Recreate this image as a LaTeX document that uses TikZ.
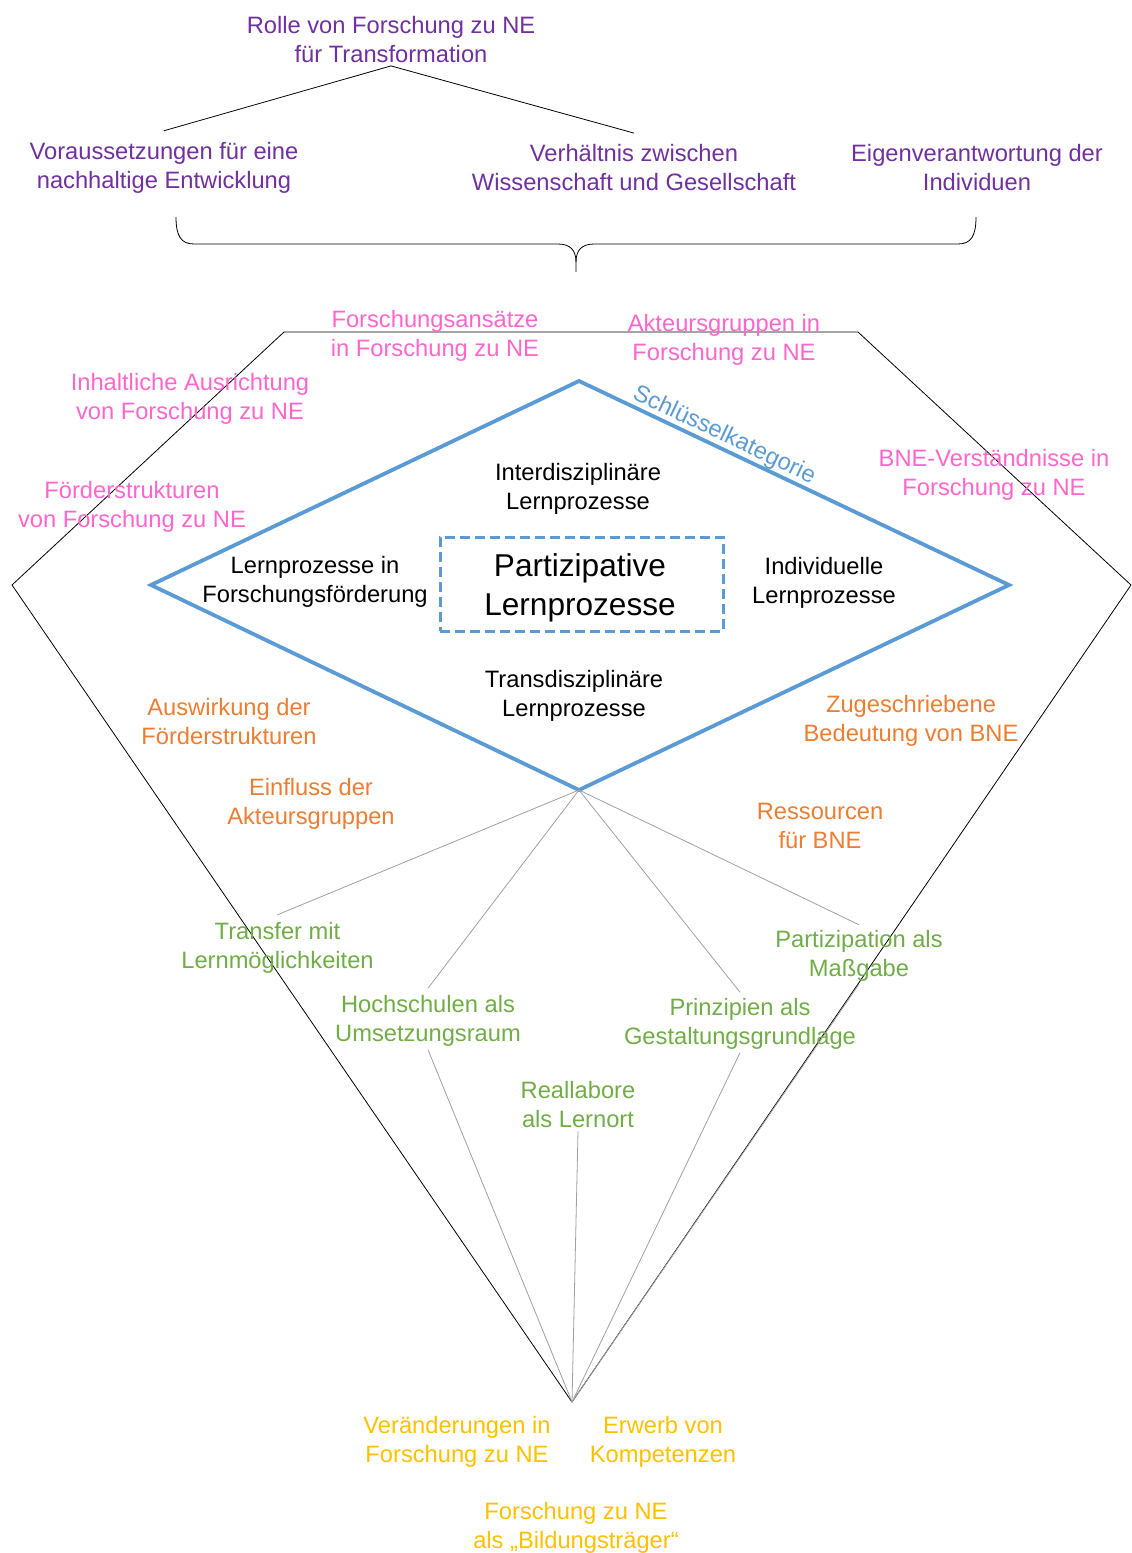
\documentclass[tikz,border=0pt]{standalone}
\usepackage{fontspec}
\setmainfont{Liberation Sans}
\usetikzlibrary{calc}
\definecolor{cpurple}{HTML}{7030A0}
\definecolor{cpink}{HTML}{FF66CC}
\definecolor{cblue}{HTML}{5B9BD5}
\definecolor{corange}{HTML}{ED7D31}
\definecolor{cgreen}{HTML}{70AD47}
\definecolor{cyellow}{HTML}{FFC000}
\definecolor{cgrey}{HTML}{A0A0A0}
\begin{document}
\begin{tikzpicture}[x=1pt,y=-1pt,
  lbl/.style={align=center, inner sep=3pt, yshift=-2.5pt, font=\fontsize{23.7}{29}\selectfont},
  purple/.style={lbl, text=cpurple},
  pink/.style={lbl, text=cpink},
  orange/.style={lbl, text=corange},
  green/.style={lbl, text=cgreen},
  yellow/.style={lbl, text=cyellow},
  blk/.style={lbl, text=black},
  outline/.style={draw=black, line width=0.8pt, line join=miter},
  keyline/.style={draw=cblue, line width=3.8pt, line join=miter},
  twig/.style={draw=cgrey, line width=0.8pt},
  corebox/.style={draw=cblue, line width=3pt, dash pattern=on 10pt off 5pt,
    minimum width=283pt, minimum height=94pt, inner sep=0pt},
  coretext/.style={align=center, inner sep=0pt, font=\fontsize{31.6}{39}\selectfont}]
\useasboundingbox (0,0) rectangle (1132,1553);

% ---- top hierarchy
\node[purple] (rolle) at (391,37) {Rolle von Forschung zu NE\\für Transformation};
\node[purple] (vor) at (164,165.5) {Voraussetzungen für eine\\nachhaltige Entwicklung};
\node[purple] (verh) at (634,165.5) {Verhältnis zwischen\\Wissenschaft und Gesellschaft};
\node[purple] (eigen) at (977,165.5) {Eigenverantwortung der\\Individuen};
\draw[outline] ([yshift=8.5pt]vor.north) -- ([yshift=0pt]rolle.south) -- ([yshift=8.5pt]verh.north);

% ---- brace
\draw[outline] (176,217) .. controls (176,236) and (181,244) .. (194,244) -- (558,244)
  .. controls (570,244) and (576,250) .. (576,262) -- (576,272);
\draw[outline] (976,217) .. controls (976,236) and (971,244) .. (958,244) -- (594,244)
  .. controls (582,244) and (576,250) .. (576,262);

% ---- outer gem outline
\coordinate (oTL) at (284,332);
\coordinate (oTR) at (858,332);
\coordinate (oR) at (1131,585);
\coordinate (apex) at (572,1402);
\coordinate (oL) at (12,585);
\draw[outline] (oTL) -- (oTR) -- (oR) -- (apex) -- (oL) -- cycle;

% ---- blue key diamond
\coordinate (dT) at (579,381);
\coordinate (dR) at (1009,585);
\coordinate (dB) at (579,790);
\coordinate (dL) at (151,585);
\draw[keyline] (dT) -- (dR) -- (dB) -- (dL) -- cycle;
\node[lbl, text=cblue, rotate=-25.4] (key) at (724,433) {Schlüsselkategorie};

\node[corebox] (core) at (581.5,584) {};
\node[coretext] (coretxt) at (580,588) {Partizipative\\Lernprozesse};

\node[blk] (inter) at (578,486) {Interdisziplinäre\\Lernprozesse};
\node[blk] (foerd) at (315,579.5) {Lernprozesse in\\Forschungsförderung};
\node[blk] (indiv) at (824,580) {Individuelle\\Lernprozesse};
\node[blk] (trans) at (574,693.5) {Transdisziplinäre\\Lernprozesse};

% ---- pink labels
\node[pink] (ansatz) at (435,333) {Forschungsansätze\\in Forschung zu NE};
\node[pink] (akteur) at (724,337.5) {Akteursgruppen in\\Forschung zu NE};
\node[pink] (inhalt) at (190,396) {Inhaltliche Ausrichtung\\von Forschung zu NE};
\node[pink] (fstruk) at (132,504.5) {Förderstrukturen\\von Forschung zu NE};
\node[pink] (bne) at (994,472.5) {BNE-Verständnisse in\\Forschung zu NE};

% ---- orange labels
\node[orange] (ausw) at (229,719) {Auswirkung der\\Förderstrukturen};
\node[orange] (einfl) at (311,801.5) {Einfluss der\\Akteursgruppen};
\node[orange] (zuge) at (911,718.5) {Zugeschriebene\\Bedeutung von BNE};
\node[orange] (ress) at (820,823.5) {Ressourcen\\für BNE};

% ---- green labels
\node[green] (transfer) at (277.5,945) {Transfer mit\\Lernmöglichkeiten};
\node[green] (hoch) at (428,1018.5) {Hochschulen als\\Umsetzungsraum};
\node[green] (real) at (578,1102.5) {Reallabore\\als Lernort};
\node[green] (prinz) at (740,1021.5) {Prinzipien als\\Gestaltungsgrundlage};
\node[green] (partiz) at (859,953) {Partizipation als\\Maßgabe};

\draw[twig] (dB) -- ([yshift=4pt]transfer.north);
\draw[twig] (dB) -- ([yshift=4pt]hoch.north);
\draw[twig] (dB) -- ([yshift=3pt]prinz.north);
\draw[twig] (dB) -- ([yshift=2pt]partiz.north);
\draw[twig] (hoch.south) -- (apex);
\draw[twig] (real.south) -- (apex);
\draw[twig] (prinz.south) -- (apex);
\draw[twig] (partiz.south) -- (apex);

% ---- yellow labels
\node[yellow] (veraend) at (457,1439.5) {Veränderungen in\\Forschung zu NE};
\node[yellow] (erwerb) at (663,1439.5) {Erwerb von\\Kompetenzen};
\node[yellow] (traeger) at (576,1525.5) {Forschung zu NE\\als „Bildungsträger“};
\end{tikzpicture}
\end{document}
